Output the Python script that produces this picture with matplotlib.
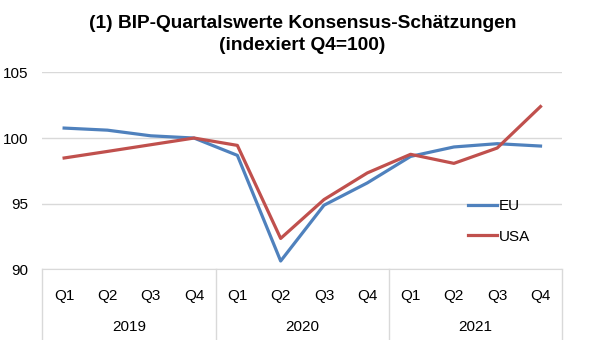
import numpy as np
import matplotlib.pyplot as plt

plt.rcParams['font.family'] = ['Liberation Sans', 'DejaVu Sans']

quarters = ['Q1', 'Q2', 'Q3', 'Q4'] * 3
years = ['2019', '2020', '2021']
eu = [100.76, 100.6, 100.17, 100.0, 98.68, 90.63, 94.88, 96.58, 98.6, 99.32, 99.57, 99.39]
usa = [98.48, 98.98, 99.49, 100.0, 99.44, 92.35, 95.31, 97.34, 98.76, 98.07, 99.24, 102.4]

fig = plt.figure(figsize=(6.05, 3.4), dpi=100)
ax = fig.add_axes([0.0702, 0.208, 0.859, 0.579])

x = np.arange(len(quarters))
ax.plot(x, eu, color='#4F81BD', lw=2.3, label='EU', solid_joinstyle='round')
ax.plot(x, usa, color='#C0504D', lw=2.3, label='USA', solid_joinstyle='round')

ax.set_xlim(-0.5, len(quarters) - 0.5)
ax.set_ylim(90, 105)
ax.set_yticks([90, 95, 100, 105])
ax.tick_params(axis='y', length=0, pad=10, labelsize=11)
ax.grid(axis='y', color='#d9d9d9', lw=1)
ax.set_axisbelow(True)
for s in ['top', 'right', 'left']:
    ax.spines[s].set_visible(False)
ax.spines['bottom'].set_color('#d9d9d9')
ax.set_xticks([])

# two-level category axis: quarters, then years, with separators
trans = ax.get_xaxis_transform()
for i, q in enumerate(quarters):
    ax.text(i, -0.134, q, transform=trans, ha='center', va='center', fontsize=11)
for j, yr in enumerate(years):
    ax.text(j * 4 + 1.5, -0.293, yr, transform=trans, ha='center', va='center', fontsize=11)
for b in [-0.5, 3.5, 7.5, 11.5]:
    ax.plot([b, b], [0, -0.36], transform=trans, color='#d9d9d9', lw=1, clip_on=False)

ax.legend(loc='lower right', bbox_to_anchor=(0.965, 0.06), frameon=False, fontsize=11,
          handlelength=1.9, handletextpad=0.15, labelspacing=1.1)

fig.text(0.5, 1 - 23 / 340, '(1) BIP-Quartalswerte Konsensus-Schätzungen',
         ha='center', va='center', fontsize=13.8, fontweight='bold')
fig.text(0.5, 1 - 45 / 340, '(indexiert Q4=100)',
         ha='center', va='center', fontsize=13.8, fontweight='bold')

fig.savefig('out.png', dpi=100)
